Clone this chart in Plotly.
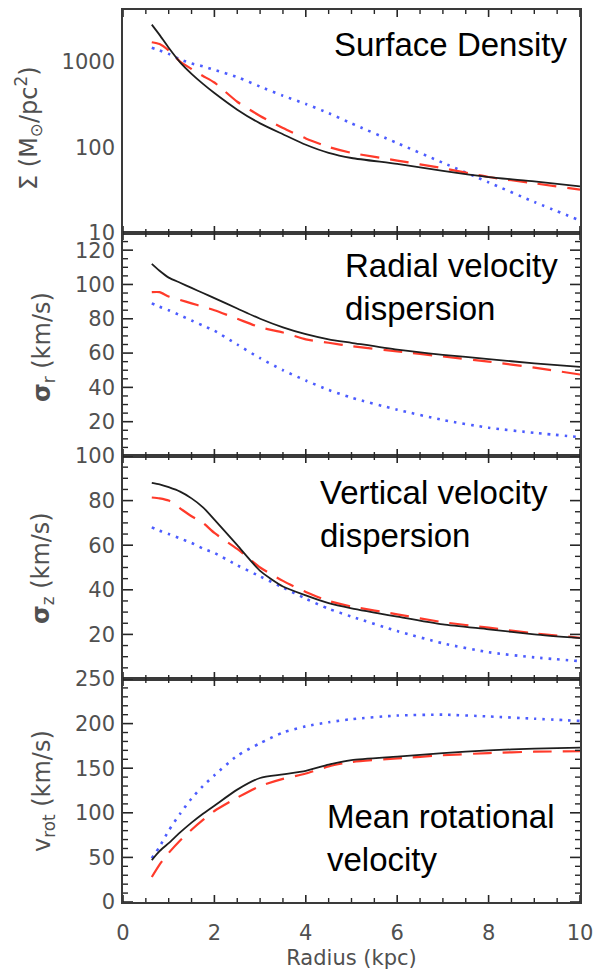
import math
import plotly.graph_objects as go
from plotly.subplots import make_subplots

radius = [0.63, 0.8, 1.0, 1.25, 1.5, 1.75, 2.0, 2.5, 3.0, 3.5, 4.0, 4.5, 5.0, 6.0, 7.0, 8.0, 9.0, 10.0]

# Surface density (Msun/pc^2)
sigma_black = [2700, 2050, 1450, 980, 720, 550, 430, 275, 190, 142, 107, 86, 75, 64, 53, 45, 40, 35]
sigma_red = [1680, 1600, 1350, 1000, 820, 680, 570, 340, 232, 168, 127, 101, 86, 70, 57, 45, 38, 32]
sigma_blue = [1450, 1350, 1230, 1060, 950, 880, 800, 660, 510, 400, 320, 250, 190, 112, 66, 39, 23, 14]

# Radial velocity dispersion (km/s)
sigr_black = [112, 108, 104, 101, 98, 95, 92, 86, 80, 75, 71, 68, 66, 62, 59, 56.5, 54, 52]
sigr_red = [95.5, 95.5, 93, 91, 89, 87, 85, 80, 75, 72, 68, 66, 64, 61, 58, 55, 51.5, 47.5]
sigr_blue = [89, 87, 85, 82, 79, 76, 73, 65, 57, 50, 44, 38.5, 34, 27, 21, 16.5, 13.5, 11]

# Vertical velocity dispersion (km/s)
sigz_black = [88, 87.3, 86, 84, 81, 77, 71.5, 60, 48.5, 41.5, 37.5, 34, 31.7, 28, 24.5, 22.3, 20, 18.3]
sigz_red = [81.4, 81, 80, 76.5, 73, 70, 65.5, 58.3, 50, 44, 39, 35, 32.5, 29, 25.5, 23, 20.5, 18.5]
sigz_blue = [68, 66.5, 65, 63, 61, 58.5, 56.5, 51, 46, 41, 36, 31.5, 28, 21.5, 16, 12, 9.7, 8]

# Mean rotational velocity (km/s)
vrot_black = [47, 57, 66, 78, 89, 99, 108, 126, 139, 143, 147, 154, 159, 163, 167, 170, 172, 173]
vrot_red = [28, 42, 55, 69, 81, 92, 102, 117, 130, 138, 144, 152, 157, 161, 164.5, 167, 168.5, 169]
vrot_blue = [49, 62, 80, 99, 116, 130, 142, 164, 178, 190, 197, 201.5, 205, 209, 210, 208, 205.5, 203]

# Tick positions
x_major = [0, 2, 4, 6, 8, 10]
x_minor = [0.5 * k for k in range(21) if k % 4 != 0]
y1_major = [10, 100, 1000]
y1_minor = [m * 10 ** e for e in (1, 2, 3) for m in range(2, 10) if m * 10 ** e <= 4000]
y2_major = [20, 40, 60, 80, 100, 120]
y2_minor = [v for v in range(5, 130, 5) if v % 20 != 0]
y3_major = [20, 40, 60, 80, 100]
y3_minor = [v for v in range(5, 100, 5) if v % 20 != 0]
y4_major = [0, 50, 100, 150, 200, 250]
y4_minor = [v for v in range(10, 250, 10) if v % 50 != 0]

panels = [
    (sigma_black, sigma_red, sigma_blue),
    (sigr_black, sigr_red, sigr_blue),
    (sigz_black, sigz_red, sigz_blue),
    (vrot_black, vrot_red, vrot_blue),
]
y_ticksets = [(y1_major, y1_minor, True), (y2_major, y2_minor, False),
              (y3_major, y3_minor, False), (y4_major, y4_minor, False)]

panel_titles = ["Surface Density", "Radial velocity<br>dispersion",
                "Vertical velocity<br>dispersion", "Mean rotational<br>velocity"]
y_titles = ["Σ (M<sub>⊙</sub>/pc<sup>2</sup>)", "<b>σ</b><sub>r</sub> (km/s)",
            "<b>σ</b><sub>z</sub> (km/s)", "v<sub>rot</sub> (km/s)"]

fig = make_subplots(rows=4, cols=1, shared_xaxes=True, vertical_spacing=0)

BLACK = "#1e1e1e"
RED = "#ff3a2a"
BLUE = "#4c5cff"
AXCOL = "#3a3a3a"
TICKCOL = "#262626"
TICKFONT = dict(family="DejaVu Sans", size=21, color="#505050")

for i, (b, r, bl) in enumerate(panels, start=1):
    fig.add_trace(go.Scatter(x=radius, y=bl, mode="lines", line=dict(color=BLUE, width=2.6, dash="2.6px,6px", shape="spline", smoothing=0.6), showlegend=False), row=i, col=1)
    fig.add_trace(go.Scatter(x=radius, y=r, mode="lines", line=dict(color=RED, width=2.2, dash="19px,11px", shape="spline", smoothing=0.6), showlegend=False), row=i, col=1)
    fig.add_trace(go.Scatter(x=radius, y=b, mode="lines", line=dict(color=BLACK, width=1.8, shape="spline", smoothing=0.6), showlegend=False), row=i, col=1)

for i in range(1, 5):
    fig.update_xaxes(row=i, col=1, range=[0, 10], tickmode="array", tickvals=x_major, ticks="",
                     showline=True, linecolor=AXCOL, linewidth=1.6, mirror=True,
                     showgrid=False, zeroline=False, showticklabels=(i == 4), tickfont=TICKFONT)

fig.update_xaxes(row=4, col=1, ticklabelstandoff=11,
                 title=dict(text="Radius (kpc)", font=dict(family="DejaVu Sans", size=21, color="#505050"), standoff=6))

common_y = dict(ticks="", showline=True, linecolor=AXCOL, linewidth=1.6, mirror=True, showgrid=False,
                zeroline=False, tickfont=TICKFONT, ticklabelstandoff=2, tickmode="array")
fig.update_yaxes(row=1, col=1, type="log", range=[1, 3.602], tickvals=y1_major,
                 ticktext=[str(v) for v in y1_major], **common_y)
fig.update_yaxes(row=2, col=1, range=[0, 130], tickvals=y2_major, **common_y)
fig.update_yaxes(row=3, col=1, range=[0, 100], tickvals=y3_major, **common_y)
fig.update_yaxes(row=4, col=1, range=[0, 250], tickvals=y4_major, **common_y)

L, R, T, B = 123, 16, 10, 69
W, H = 596, 971
pw, ph = W - L - R, H - T - B
panel_h = ph / 4

# Tick marks drawn inward on all four sides of every panel
shapes = []
def tick_line(xref, yref, x0, x1, y0, y1, w):
    shapes.append(dict(type="line", xref=xref, yref=yref, x0=x0, x1=x1, y0=y0, y1=y1,
                       line=dict(color=TICKCOL, width=w), layer="above"))

for i in range(1, 5):
    sfx = "" if i == 1 else str(i)
    xr, yr = "x" + sfx, "y" + sfx
    xd, yd = xr + " domain", yr + " domain"
    for vals, ln, w in ((x_major, 7, 1.6), (x_minor, 4, 1.4)):
        f = ln / panel_h
        for v in vals:
            tick_line(xr, yd, v, v, 0, f, w)
            tick_line(xr, yd, v, v, 1 - f, 1, w)
    major, minor, is_log = y_ticksets[i - 1]
    for vals, ln, w in ((major, 10, 1.6), (minor, 5, 1.4)):
        f = ln / pw
        for v in vals:
            yv = math.log10(v) if is_log else v
            tick_line(xd, yr, 0, f, yv, yv, w)
            tick_line(xd, yr, 1 - f, 1, yv, yv, w)

def px2x(px):
    return (px - L) / pw

def py2y(py):
    return (H - B - py) / ph

annos = []
title_pos = [(332, 45), (343, 287), (318, 514), (325, 838)]
for txt, (xp, yp) in zip(panel_titles, title_pos):
    annos.append(dict(text=txt, x=px2x(xp), y=py2y(yp), xref="paper", yref="paper", xanchor="left",
                      yanchor="middle", align="left", showarrow=False,
                      font=dict(family="Liberation Sans", size=33, color="#000000")))

ytitle_pos = [(28, 128), (43, 347), (43, 568), (43, 791)]
for txt, (xp, yp) in zip(y_titles, ytitle_pos):
    annos.append(dict(text=txt, x=px2x(xp), y=py2y(yp), xref="paper", yref="paper", xanchor="center",
                      yanchor="middle", textangle=-90, showarrow=False,
                      font=dict(family="DejaVu Sans", size=24, color="#505050")))

fig.update_layout(width=W, height=H, margin=dict(l=L, r=R, t=T, b=B, autoexpand=False),
                  paper_bgcolor="white", plot_bgcolor="white", annotations=annos, shapes=shapes,
                  showlegend=False)

fig.write_html("out.html")
